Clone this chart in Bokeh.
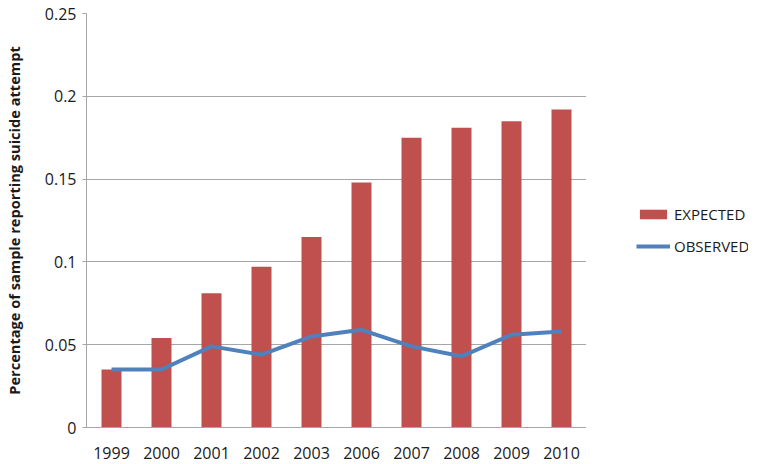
from bokeh.plotting import figure
from bokeh.layouts import row
from bokeh.models import ColumnDataSource, FactorRange, Range1d, Legend, LegendItem, FixedTicker, CustomJSTickFormatter
from bokeh.embed import file_html
from bokeh.resources import INLINE

years = ["1999", "2000", "2001", "2002", "2003", "2006", "2007", "2008", "2009", "2010"]
expected = [0.035, 0.054, 0.081, 0.097, 0.115, 0.148, 0.175, 0.181, 0.185, 0.192]
observed = [0.035, 0.035, 0.049, 0.044, 0.055, 0.059, 0.049, 0.043, 0.056, 0.058]
y_ticks = [0, 0.05, 0.1, 0.15, 0.2, 0.25]

BAR_COLOR = "#C0504D"
LINE_COLOR = "#4F81BD"
FONT = "Open Sans"
TEXT = "#1A1A1A"

src = ColumnDataSource(dict(year=years, expected=expected, observed=observed))

p = figure(width=586, height=464, x_range=FactorRange(*years), y_range=Range1d(0, 0.25),
           output_backend="svg", toolbar_location=None,
           min_border_left=78, min_border_right=0, min_border_top=13, min_border_bottom=37)
p.outline_line_color = None
p.background_fill_color = "white"
p.border_fill_color = "white"

p.vbar(x="year", top="expected", width=0.4, source=src, fill_color=BAR_COLOR, line_color=None)
p.line(x="year", y="observed", source=src, line_color=LINE_COLOR, line_width=4)

p.xgrid.grid_line_color = None
p.ygrid.grid_line_color = "#A6A6A6"
p.ygrid.grid_line_width = 1

p.yaxis.ticker = FixedTicker(ticks=y_ticks)
p.yaxis.formatter = CustomJSTickFormatter(code="return String(Math.round(tick*100)/100);")
p.yaxis.minor_tick_line_color = None
p.yaxis.major_tick_out = 4
p.yaxis.major_tick_in = 0
p.yaxis.axis_line_color = "#A6A6A6"
p.yaxis.major_tick_line_color = "#A6A6A6"
p.yaxis.major_label_standoff = 6
p.yaxis.major_label_text_font = FONT
p.yaxis.major_label_text_font_size = "16px"
p.yaxis.major_label_text_color = TEXT
p.yaxis.axis_label = "Percentage of sample reporting suicide attempt"
p.yaxis.axis_label_text_font = FONT
p.yaxis.axis_label_text_font_size = "14.6px"
p.yaxis.axis_label_text_font_style = "bold"
p.yaxis.axis_label_text_color = TEXT
p.yaxis.axis_label_standoff = 18

p.xaxis.axis_line_color = "#A6A6A6"
p.xaxis.major_tick_line_color = None
p.xaxis.major_tick_out = 0
p.xaxis.major_tick_in = 0
p.xaxis.major_label_standoff = 19
p.xaxis.major_label_text_font = FONT
p.xaxis.major_label_text_font_size = "16px"
p.xaxis.major_label_text_color = TEXT

# legend panel (renderers hidden, only used for legend glyphs)
q = figure(width=162, height=464, x_range=FactorRange(*years), y_range=Range1d(0, 0.25),
           output_backend="svg", toolbar_location=None, min_border=0,
           x_axis_location=None, y_axis_location=None)
q.grid.visible = False
q.outline_line_color = None
lb = q.vbar(x="year", top="expected", width=0.4, source=src, fill_color=BAR_COLOR, line_color=None, visible=False)
ll = q.line(x="year", y="observed", source=src, line_color=LINE_COLOR, line_width=4, visible=False)
legend = Legend(items=[LegendItem(label="EXPECTED", renderers=[lb]),
                       LegendItem(label="OBSERVED", renderers=[ll])],
                location=(50, 171), margin=0, padding=0, spacing=12, glyph_width=34, glyph_height=12,
                label_height=12, label_standoff=4, border_line_color=None,
                background_fill_alpha=0, inactive_fill_alpha=0,
                label_text_font=FONT, label_text_font_size="15px",
                label_text_color=TEXT)
q.add_layout(legend, "center")

layout = row(p, q, spacing=0)
open("out.html", "w").write(file_html(layout, INLINE))
